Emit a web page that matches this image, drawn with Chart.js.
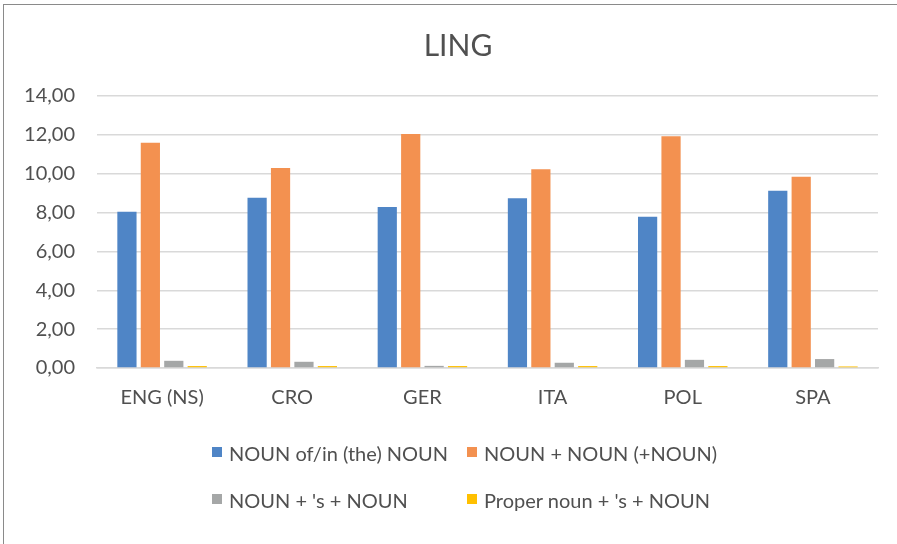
<!DOCTYPE html>
<html>
<head>
<meta charset="utf-8">
<script src="https://cdn.jsdelivr.net/npm/chart.js@4/dist/chart.umd.min.js"></script>
<style>
  html, body { margin: 0; padding: 0; background: #fff; }
  #wrap { position: relative; width: 897px; height: 544px; overflow: hidden; }
  #frame { position: absolute; left: 3px; top: 4px; width: 900px; height: 560px;
           border-left: 1.5px solid #8a8a8a; border-top: 1.5px solid #8a8a8a; box-sizing: border-box; }
  canvas { position: absolute; left: 0; top: 0; }
  #overlay { position: absolute; left: 0; top: 0; width: 897px; height: 544px; pointer-events: none;
            font-family: Lato, "Open Sans", sans-serif; font-size: 20px; color: #505050; }
  #title { position: absolute; left: 358px; width: 200px; top: 26px; text-align: center;
           font-size: 30px; line-height: 36px; white-space: nowrap; }
  .item { position: absolute; white-space: nowrap; line-height: 20px; }
  .box { position: absolute; width: 10px; height: 10px; }
</style>
</head>
<body>
<div id="wrap">
  <div id="frame"></div>
  <canvas id="c" width="897" height="544"></canvas>
  <div id="overlay"><div id="title"></div></div>
</div>
<script>
const titleText = "LING";
const categories = ["ENG (NS)", "CRO", "GER", "ITA", "POL", "SPA"];
const seriesNames = ["NOUN of/in (the) NOUN", "NOUN + NOUN (+NOUN)", "NOUN + 's + NOUN", "Proper noun + 's + NOUN"];
const nounOfNoun   = [8.04, 8.76, 8.29, 8.74, 7.79, 9.12];
const nounNoun     = [11.59, 10.30, 12.04, 10.23, 11.93, 9.84];
const nounSNoun    = [0.37, 0.32, 0.11, 0.27, 0.42, 0.46];
const properSNoun  = [0.10, 0.10, 0.10, 0.10, 0.10, 0.08];
const colors = ["#4F85C6", "#F39150", "#A5A7A7", "#FFC000"];
const yTicks = [0, 2, 4, 6, 8, 10, 12, 14];

const seriesValues = [nounOfNoun, nounNoun, nounSNoun, properSNoun];
const datasets = seriesNames.map((n, i) => ({
  label: n,
  data: seriesValues[i],
  backgroundColor: colors[i],
  borderWidth: 0,
  barPercentage: 0.82,
  categoryPercentage: 0.72
}));

const fontFam = "Lato, 'Open Sans', sans-serif";
const textColor = "#505050";
const chart = new Chart(document.getElementById("c"), {
  type: "bar",
  data: { labels: categories, datasets },
  options: {
    responsive: false,
    animation: false,
    devicePixelRatio: 1,
    layout: { padding: { left: 0, right: 19, top: 96, bottom: 0 } },
    plugins: {
      legend: { display: false },
      tooltip: { enabled: false },
      title: { display: false }
    },
    scales: {
      x: {
        grid: { display: false, drawTicks: false },
        border: { display: true, color: "#d9d9d9", width: 1.5 },
        ticks: { color: textColor, font: { family: fontFam, size: 20 }, padding: 18 },
        afterFit: s => { s.height = 176; }
      },
      y: {
        min: 0, max: 14,
        afterBuildTicks: s => { s.ticks = yTicks.map(v => ({ value: v })); },
        grid: { color: "#d9d9d9", lineWidth: 1.5, drawTicks: false },
        border: { display: false },
        ticks: {
          color: textColor, font: { family: fontFam, size: 20 }, padding: 22,
          callback: v => v.toFixed(2).replace(".", ",")
        },
        afterFit: s => { s.width = 97; }
      }
    }
  }
});

document.getElementById("title").textContent = titleText;

// HTML legend (2x2 grid like the reference)
const leg = document.getElementById("overlay");
const pos = [[212, 453], [467, 453], [212, 500], [467, 500]];
seriesNames.forEach((n, i) => {
  const [x, y] = pos[i];
  const b = document.createElement("div");
  b.className = "box";
  b.style.left = x + "px"; b.style.top = (y - 6) + "px";
  b.style.background = colors[i];
  leg.appendChild(b);
  const t = document.createElement("div");
  t.className = "item";
  t.style.left = (x + 17) + "px"; t.style.top = (y - 10) + "px";
  t.textContent = n;
  leg.appendChild(t);
});
</script>
</body>
</html>
